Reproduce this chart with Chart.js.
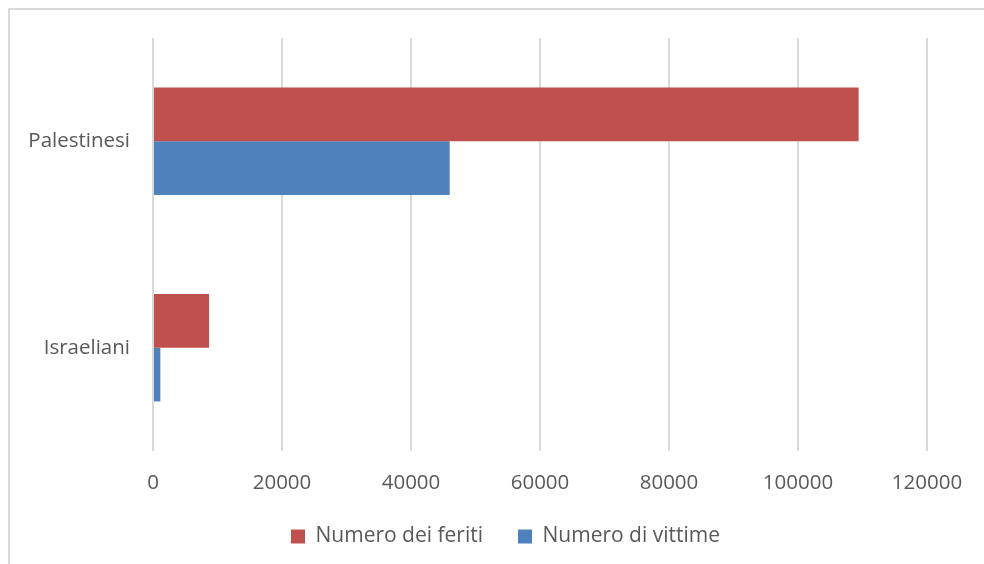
<!DOCTYPE html>
<html>
<head>
<meta charset="utf-8">
<script src="https://cdn.jsdelivr.net/npm/chart.js@4/dist/chart.umd.min.js"></script>
<style>
  html, body { margin: 0; padding: 0; background: #fff; overflow: hidden; }
  #myChart { display: block; }
</style>
</head>
<body>
<canvas id="myChart" width="984" height="564"></canvas>
<script>
// categories, top to bottom
const categories = ['Palestinesi', 'Israeliani'];

// series values
const feriti = [109400, 8700];
const vittime = [46000, 1140];

const xTicks = [0, 20000, 40000, 60000, 80000, 100000, 120000];

const RED = '#C0504D';
const BLUE = '#4F81BD';
const TEXT = '#595959';
const GRID = '#d9d9d9';

// outer frame of the chart (only top and left edges are inside the picture)
const framePlugin = {
  id: 'frame',
  beforeDraw(chart) {
    const ctx = chart.ctx;
    ctx.save();
    ctx.fillStyle = '#fff';
    ctx.fillRect(0, 0, chart.width, chart.height);
    ctx.strokeStyle = GRID;
    ctx.lineWidth = 2;
    ctx.beginPath();
    ctx.moveTo(9, chart.height);
    ctx.lineTo(9, 9);
    ctx.lineTo(chart.width, 9);
    ctx.stroke();
    ctx.restore();
  }
};

// nudge the legend to the right like the original
const legendShift = {
  id: 'legendShift',
  afterLayout(chart) {
    if (chart.legend) {
      chart.legend.left += 42;
      chart.legend.right += 42;
    }
  }
};

const data = {
  labels: categories,
  datasets: [
    {
      label: 'Numero dei feriti',
      data: feriti,
      backgroundColor: RED,
      borderWidth: 0,
      categoryPercentage: 0.52,
      barPercentage: 1
    },
    {
      label: 'Numero di vittime',
      data: vittime,
      backgroundColor: BLUE,
      borderWidth: 0,
      categoryPercentage: 0.52,
      barPercentage: 1
    }
  ]
};

const config = {
  type: 'bar',
  data: data,
  plugins: [framePlugin, legendShift],
  options: {
    indexAxis: 'y',
    responsive: false,
    animation: false,
    layout: { padding: { left: 0, right: 57, top: 38, bottom: 7 } },
    scales: {
      x: {
        min: 0,
        max: 120000,
        afterBuildTicks: (axis) => { axis.ticks = xTicks.map(v => ({ value: v })); },
        afterFit: (axis) => { axis.height = 40; },
        grid: { color: GRID, lineWidth: 2, drawTicks: false },
        border: { display: false },
        ticks: {
          color: TEXT,
          padding: 20,
          font: { family: 'Open Sans', size: 20.5 },
          callback: (v) => String(v)
        }
      },
      y: {
        afterFit: (axis) => { axis.width = 153; },
        grid: { display: false },
        border: { display: false },
        ticks: {
          color: TEXT,
          padding: 15,
          font: { family: 'Open Sans', size: 20.5 }
        }
      }
    },
    plugins: {
      legend: {
        position: 'bottom',
        labels: {
          color: TEXT,
          boxWidth: 14,
          boxHeight: 14,
          padding: 35,
          font: { family: 'Open Sans', size: 21 }
        }
      },
      tooltip: { enabled: false }
    }
  }
};

const myChart = new Chart(document.getElementById('myChart'), config);
</script>
</body>
</html>
